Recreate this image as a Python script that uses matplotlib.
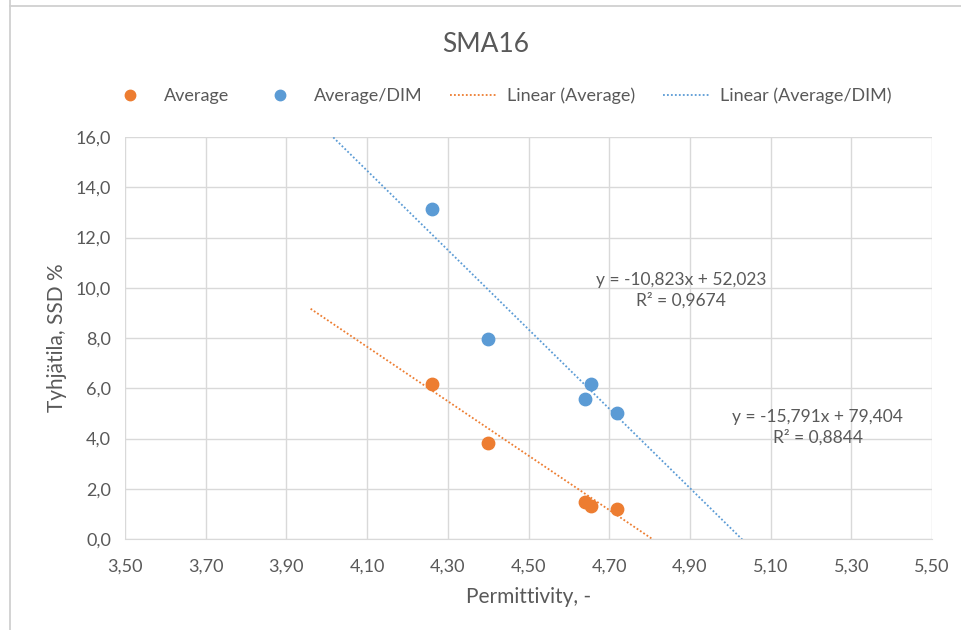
import matplotlib
matplotlib.use("Agg")
import matplotlib.pyplot as plt
import numpy as np
from matplotlib.ticker import FuncFormatter
from matplotlib.lines import Line2D

plt.rcParams['font.family'] = ['Lato', 'DejaVu Sans']

# Data
permittivity = [4.26, 4.40, 4.64, 4.655, 4.72]
average = [6.17, 3.82, 1.47, 1.31, 1.19]
permittivity_dim = [4.26, 4.40, 4.64, 4.655, 4.72]
average_dim = [13.15, 7.98, 5.56, 6.17, 5.0]

# Trendline coefficients (as displayed)
avg_slope, avg_intercept, avg_r2 = -10.823, 52.023, 0.9674
dim_slope, dim_intercept, dim_r2 = -15.791, 79.404, 0.8844
backward_forecast = 0.3

x_ticks = [3.5, 3.7, 3.9, 4.1, 4.3, 4.5, 4.7, 4.9, 5.1, 5.3, 5.5]
y_ticks = [0, 2, 4, 6, 8, 10, 12, 14, 16]

orange = '#ED7D31'
blue = '#5B9BD5'
txt = '#595959'

fig = plt.figure(figsize=(9.61, 6.30), dpi=100)
# chart-area border (top and left visible)
fig.add_artist(Line2D([10/961, 1.0], [1 - 6/630, 1 - 6/630], transform=fig.transFigure,
                      color='#D0D0D0', linewidth=1.3))
fig.add_artist(Line2D([10/961, 10/961], [0.0, 1.0], transform=fig.transFigure,
                      color='#D0D0D0', linewidth=1.3))

ax = fig.add_axes([125/961, 91/630, 807/961, 402/630])

ax.set_xlim(3.5, 5.5)
ax.set_ylim(0, 16)
ax.set_xticks(x_ticks)
ax.set_yticks(y_ticks)
ax.xaxis.set_major_formatter(FuncFormatter(lambda v, p: f"{v:.2f}".replace('.', ',')))
ax.yaxis.set_major_formatter(FuncFormatter(lambda v, p: f"{v:.1f}".replace('.', ',')))
ax.grid(True, color='#D9D9D9', linewidth=1.0)
ax.set_axisbelow(True)
for s in ['top', 'right', 'left']:
    ax.spines[s].set_visible(False)
ax.spines['bottom'].set_color('#D9D9D9')
ax.tick_params(length=0, colors=txt, labelsize=13)
ax.tick_params(axis='x', pad=14)
ax.tick_params(axis='y', pad=10)

# Trendlines
x0 = min(permittivity) - backward_forecast
xs = np.linspace(x0, 5.2, 200)
ax.plot(xs, avg_slope * xs + avg_intercept, color=orange, linestyle=(0, (1, 1.2)), linewidth=1.3, zorder=2)
ax.plot(xs, dim_slope * xs + dim_intercept, color=blue, linestyle=(0, (1, 1.2)), linewidth=1.3, zorder=2)

ax.scatter(permittivity, average, s=80, color=orange, zorder=3)
ax.scatter(permittivity_dim, average_dim, s=80, color=blue, zorder=3)

def fmt(v, d):
    return f"{v:.{d}f}".replace('.', ',')

ax.text(4.878, 9.90, f"y = {fmt(avg_slope,3)}x + {fmt(avg_intercept,3)}\nR² = {fmt(avg_r2,4)}",
        ha='center', va='center', fontsize=12.5, color=txt, linespacing=1.35)
ax.text(5.217, 4.44, f"y = {fmt(dim_slope,3)}x + {fmt(dim_intercept,3)}\nR² = {fmt(dim_r2,4)}",
        ha='center', va='center', fontsize=12.5, color=txt, linespacing=1.35)

ax.set_xlabel('Permittivity, -', fontsize=15, color=txt, labelpad=9)
ax.set_ylabel('Tyhjätila, SSD %', fontsize=15, color=txt, labelpad=6)

fig.text(486/961, 1 - 45/630, 'SMA16', ha='center', va='center', fontsize=19, color=txt)

handles = [
    Line2D([], [], marker='o', linestyle='none', color=orange, markersize=7.5),
    Line2D([], [], marker='o', linestyle='none', color=blue, markersize=7.5),
    Line2D([], [], color=orange, linestyle=(0, (1, 1.2)), linewidth=1.3),
    Line2D([], [], color=blue, linestyle=(0, (1, 1.2)), linewidth=1.3),
]
labels = ['Average', 'Average/DIM', 'Linear (Average)', 'Linear (Average/DIM)']
fig.legend(handles, labels, loc='center', bbox_to_anchor=(499/961, 1 - 96/630), ncol=4,
           frameon=False, fontsize=13, labelcolor=txt, columnspacing=1.5, handlelength=2.6,
           handletextpad=0.6)

fig.savefig('out.png', dpi=100, facecolor='white')
